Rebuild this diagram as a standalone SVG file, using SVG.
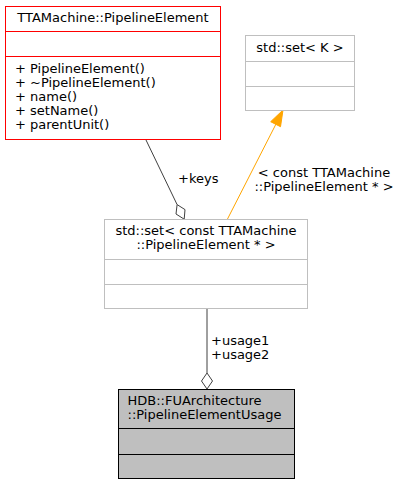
<svg xmlns="http://www.w3.org/2000/svg" width="400" height="485" viewBox="0 0 400 485">
<style>
text{font-family:"DejaVu Sans","Liberation Sans",sans-serif;font-size:13px;fill:#000}
.c{text-anchor:middle}
.red{fill:#fff;stroke:#ff0000;stroke-width:1}
.grey{fill:#fff;stroke:#bfbfbf;stroke-width:1}
.cur{fill:#bfbfbf;stroke:#000;stroke-width:1}
.agg{fill:none;stroke:#404040;stroke-width:1}
.dia{fill:#fff;stroke:#404040;stroke-width:1}
.inh{fill:none;stroke:#ffa500;stroke-width:1}
</style>
<rect width="400" height="485" fill="#fff"/>
<g id="connectors">
<line class="agg" x1="146" y1="140" x2="177.1" y2="204.6"/>
<polygon class="dia" points="184.2,219.2 185,209.6 177.1,204.6 176,214"/>
<text x="178" y="183">+keys</text>
<line class="inh" x1="227.5" y1="219" x2="276" y2="124"/>
<polygon points="283,110 280.5,126.7 270.7,121.7" fill="#ffa500" stroke="#ffa500"/>
<text class="c" x="324" y="176.5">&lt; const TTAMachine</text>
<text class="c" x="324" y="190.5">::PipelineElement * &gt;</text>
<line class="agg" x1="207" y1="309" x2="207" y2="373"/>
<polygon class="dia" points="207,389 212.5,381 207,373 201.5,381"/>
<text x="211" y="345">+usage1</text>
<text x="211" y="359">+usage2</text>
</g>
<g id="PipelineElement">
<rect class="red" x="5.5" y="6.5" width="215" height="133"/>
<line class="red" x1="5.5" y1="31.5" x2="220.5" y2="31.5"/>
<line class="red" x1="5.5" y1="56.5" x2="220.5" y2="56.5"/>
<text class="c" x="113" y="22">TTAMachine::PipelineElement</text>
<text x="15" y="72.5">+ PipelineElement()</text>
<text x="15" y="86.5">+ ~PipelineElement()</text>
<text x="15" y="100.5">+ name()</text>
<text x="15" y="114.5">+ setName()</text>
<text x="15" y="128.5">+ parentUnit()</text>
</g>
<g id="SetK">
<rect class="grey" x="245.5" y="35.5" width="109" height="75"/>
<line class="grey" x1="245.5" y1="61.5" x2="354.5" y2="61.5"/>
<line class="grey" x1="245.5" y1="86.5" x2="354.5" y2="86.5"/>
<text class="c" x="300" y="51.5">std::set&lt; K &gt;</text>
</g>
<g id="SetPipelineElement">
<rect class="grey" x="104.5" y="219.5" width="203" height="89"/>
<line class="grey" x1="104.5" y1="259.5" x2="307.5" y2="259.5"/>
<line class="grey" x1="104.5" y1="284.5" x2="307.5" y2="284.5"/>
<text class="c" x="206" y="235">std::set&lt; const TTAMachine</text>
<text class="c" x="206" y="249">::PipelineElement * &gt;</text>
</g>
<g id="PipelineElementUsage">
<rect class="cur" x="118.5" y="389.5" width="176" height="89"/>
<line class="cur" x1="118.5" y1="428.5" x2="294.5" y2="428.5"/>
<line class="cur" x1="118.5" y1="454.5" x2="294.5" y2="454.5"/>
<text x="127.5" y="405">HDB::FUArchitecture</text>
<text x="127.5" y="419">::PipelineElementUsage</text>
</g>
</svg>
